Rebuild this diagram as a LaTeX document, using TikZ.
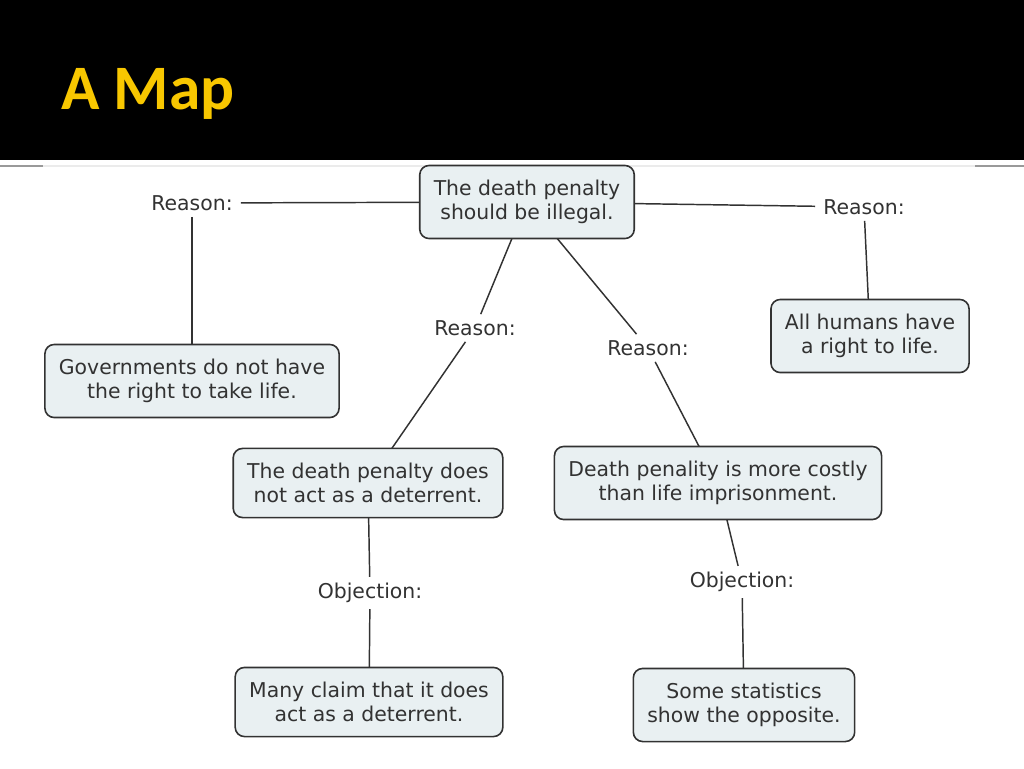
\documentclass[tikz,border=0pt]{standalone}
\usepackage{fontspec}
\setmainfont{DejaVu Sans}
\newfontfamily\titlefont{Carlito}
\usepackage{tikz}
\definecolor{gold}{RGB}{248,199,0}
\definecolor{boxfill}{RGB}{233,240,242}
\definecolor{ink}{RGB}{50,50,50}

\begin{document}
\begin{tikzpicture}
  [x=0.75pt,y=-0.75pt,
   concept/.style={draw=ink,line width=1.2pt,rounded corners=7pt,fill=boxfill,text=ink,
     align=center,inner xsep=10.5pt,inner ysep=11pt,outer sep=0pt,
     font=\fontsize{15.3}{18}\selectfont},
   link/.style={text=ink,inner xsep=6pt,inner ysep=4.5pt,font=\fontsize{15.3}{18}\selectfont}]
  \useasboundingbox (0,0) rectangle (1024,768);
  \fill[black] (0,0) rectangle (1024,160);
  \draw[black!8,line width=1pt] (0,166) -- (1024,166);
  \draw[black!40,line width=1.5pt] (0,166) -- (43,166);
  \draw[black!40,line width=1.5pt] (975,166) -- (1024,166);
  \node[anchor=base west,inner sep=0pt,text=gold,font=\titlefont\bfseries\fontsize{47.5}{56}\selectfont] (title) at (61,109) {A Map};

  \node[concept] (top)    at (527,202) {The death penalty\\should be illegal.};
  \node[link]    (reasonL) at (192,203) {Reason:};
  \node[concept] (govt)   at (192,381) {Governments do not have\\the right to take life.};
  \node[link]    (reasonR) at (864,207) {Reason:};
  \node[concept] (humans) at (870,336) {All humans have\\a right to life.};
  \node[link]    (reasonA) at (475,328) {Reason:};
  \node[concept] (deter)  at (368,483) {The death penalty does\\not act as a deterrent.};
  \node[link]    (objA)   at (370,593) {Objection:};
  \node[concept] (claim)  at (369,702) {Many claim that it does\\act as a deterrent.};
  \node[link]    (reasonB) at (648,348) {Reason:};
  \node[concept] (costly) at (718,483) {Death penality is more costly\\than life imprisonment.};
  \node[link]    (objB)   at (742,582) {Objection:};
  \node[concept] (stats)  at (744,705) {Some statistics\\show the opposite.};

  \foreach \from/\to in {top/reasonL, reasonL/govt, top/reasonR, reasonR/humans,
      top/reasonA, reasonA/deter, deter/objA, objA/claim,
      top/reasonB, reasonB/costly, costly/objB, objB/stats}
    \draw[ink,line width=1.1pt] (\from) -- (\to);

\end{tikzpicture}
\end{document}
